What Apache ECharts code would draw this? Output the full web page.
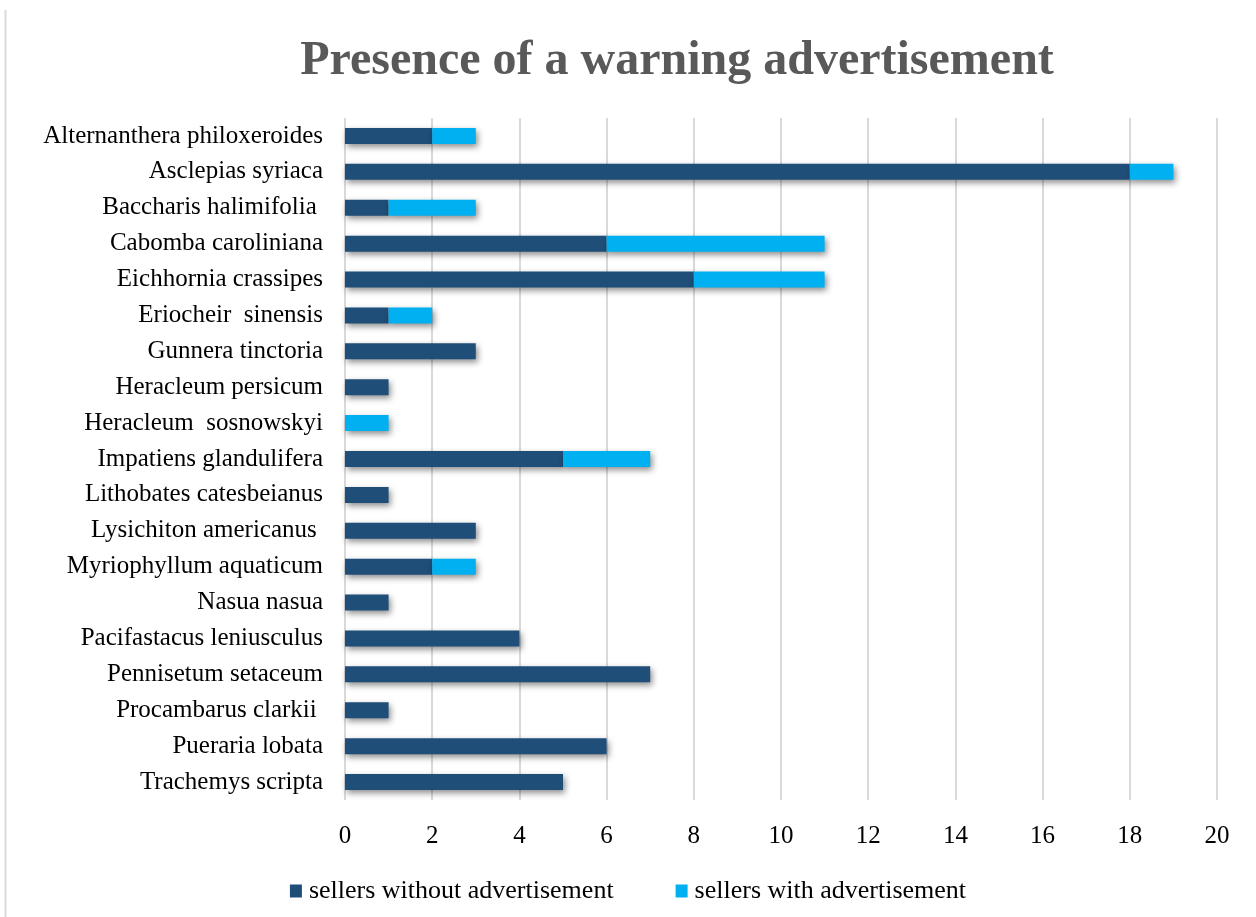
<!DOCTYPE html>
<html>
<head>
<meta charset="utf-8">
<script src="https://cdn.jsdelivr.net/npm/echarts@6/dist/echarts.min.js"></script>
<style>html,body{margin:0;padding:0;background:#fff}#c{width:1256px;height:917px}</style>
</head>
<body>
<div id="c"></div>
<script>
const categories = [
  "Alternanthera philoxeroides","Asclepias syriaca","Baccharis halimifolia ","Cabomba caroliniana",
  "Eichhornia crassipes","Eriocheir  sinensis","Gunnera tinctoria","Heracleum persicum",
  "Heracleum  sosnowskyi","Impatiens glandulifera","Lithobates catesbeianus","Lysichiton americanus ",
  "Myriophyllum aquaticum","Nasua nasua","Pacifastacus leniusculus","Pennisetum setaceum",
  "Procambarus clarkii ","Pueraria lobata","Trachemys scripta"
];
const withoutAd = [2,18,1,6,8,1,3,1,0,5,1,3,2,1,4,7,1,6,5];
const withAd    = [1,1,2,5,3,1,0,0,1,2,0,0,1,0,0,0,0,0,0];
const xTicks = {min:0, max:20, interval:2};

const font = "'Liberation Serif','Times New Roman',serif";
const shadow = {shadowColor:'rgba(0,0,0,0.45)', shadowBlur:6, shadowOffsetX:2, shadowOffsetY:3};
const chart = echarts.init(document.getElementById('c'));
chart.setOption({
  animation:false,
  backgroundColor:'#fff',
  title:{text:'Presence of a warning advertisement', left:672, top:33, textAlign:'center',
    textStyle:{fontFamily:font, fontWeight:'bold', fontSize:48, color:'#595959'}},
  legend:{top:873, left:'center', itemWidth:12, itemHeight:13, itemGap:62, icon:'rect',
    textStyle:{fontFamily:font, fontSize:26, color:'#000', padding:[0,0,0,2]},
    data:['sellers without advertisement','sellers with advertisement']},
  grid:{left:345, right:39, top:118, bottom:117, containLabel:false},
  xAxis:{type:'value', min:xTicks.min, max:xTicks.max, interval:xTicks.interval,
    axisLine:{show:false}, axisTick:{show:false},
    axisLabel:{margin:24, fontFamily:font, fontSize:25, color:'#000'},
    splitLine:{lineStyle:{color:'#d9d9d9', width:2}}},
  yAxis:{type:'category', data:categories, inverse:true,
    axisLine:{show:false}, axisTick:{show:false},
    axisLabel:{margin:22, fontFamily:font, fontSize:25, color:'#000'}},
  graphic:[{type:'line', shape:{x1:5.5,y1:10,x2:5.5,y2:917}, style:{stroke:'#d9d9d9', lineWidth:2}}],
  series:[
    {name:'sellers without advertisement', type:'bar', stack:'a', data:withoutAd, barWidth:16,
      itemStyle:Object.assign({color:'#1F4E79'}, shadow)},
    {name:'sellers with advertisement', type:'bar', stack:'a', data:withAd, barWidth:16,
      itemStyle:Object.assign({color:'#00B0F0'}, shadow)}
  ]
});
</script>
</body>
</html>
